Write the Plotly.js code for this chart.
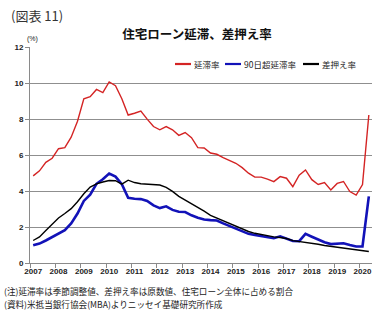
<!DOCTYPE html>
<html>
<head>
<meta charset="utf-8">
<script src="https://cdn.plot.ly/plotly-3.0.1.min.js"></script>
<style>html,body{margin:0;padding:0;background:#fff;}#chart{width:389px;height:325px;}</style>
</head>
<body>
<div id="chart"></div>
<script>
// Quarterly periods, 2007Q1 - 2020Q2
const periods = [
 '2007Q1','2007Q2','2007Q3','2007Q4','2008Q1','2008Q2','2008Q3','2008Q4',
 '2009Q1','2009Q2','2009Q3','2009Q4','2010Q1','2010Q2','2010Q3','2010Q4',
 '2011Q1','2011Q2','2011Q3','2011Q4','2012Q1','2012Q2','2012Q3','2012Q4',
 '2013Q1','2013Q2','2013Q3','2013Q4','2014Q1','2014Q2','2014Q3','2014Q4',
 '2015Q1','2015Q2','2015Q3','2015Q4','2016Q1','2016Q2','2016Q3','2016Q4',
 '2017Q1','2017Q2','2017Q3','2017Q4','2018Q1','2018Q2','2018Q3','2018Q4',
 '2019Q1','2019Q2','2019Q3','2019Q4','2020Q1','2020Q2'
];
const seriesNames = ['延滞率', '90日超延滞率', '差押え率'];
// 延滞率 (%)
const delinquency = [4.84,5.12,5.59,5.82,6.35,6.41,6.99,7.88,9.12,9.24,9.64,9.47,10.06,9.85,9.13,8.22,
 8.32,8.44,7.99,7.58,7.40,7.58,7.40,7.09,7.25,6.96,6.41,6.39,6.11,6.04,5.85,5.68,
 5.54,5.30,4.99,4.77,4.77,4.66,4.52,4.80,4.71,4.24,4.88,5.17,4.63,4.36,4.47,4.06,
 4.42,4.53,3.97,3.77,4.36,8.22];
// 90日超延滞率 (%)
const over90 = [0.98,1.08,1.25,1.45,1.62,1.82,2.20,2.75,3.45,3.80,4.40,4.65,4.97,4.80,4.38,3.62,
 3.57,3.55,3.45,3.20,3.05,3.15,2.95,2.85,2.83,2.65,2.52,2.42,2.38,2.36,2.20,2.06,
 1.93,1.76,1.62,1.56,1.50,1.46,1.38,1.48,1.36,1.22,1.21,1.62,1.46,1.30,1.15,1.05,
 1.06,1.10,1.00,0.92,0.92,3.70];
// 差押え率 (%)
const foreclosure = [1.25,1.45,1.80,2.15,2.50,2.75,3.02,3.40,3.85,4.22,4.40,4.50,4.58,4.57,4.38,4.60,
 4.47,4.40,4.38,4.36,4.33,4.20,3.98,3.70,3.50,3.30,3.10,2.88,2.65,2.50,2.35,2.20,
 2.05,1.92,1.75,1.65,1.58,1.50,1.45,1.42,1.36,1.24,1.20,1.15,1.10,1.04,0.97,0.92,
 0.88,0.84,0.79,0.74,0.70,0.64];
const yearTicks = [2007,2008,2009,2010,2011,2012,2013,2014,2015,2016,2017,2018,2019,2020];
const yTicks = [0,2,4,6,8,10,12];

const titleText = '住宅ローン延滞、差押え率';
const figLabel = '(図表 11)';
const unitLabel = '(%)';
const note1 = '(注)延滞率は季節調整値、差押え率は原数値、住宅ローン全体に占める割合';
const note2 = '(資料)米抵当銀行協会(MBA)よりニッセイ基礎研究所作成';

// period string -> numeric time position
const xs = periods.map(p => +p.slice(0,4) + (+p.slice(5) - 1) / 4);

const colors = ['#d42424', '#1212b8', '#000000'];
const widths = [1.4, 2.6, 1.4];
const values = [delinquency, over90, foreclosure];

const traces = values.map((v, k) => ({
  type: 'scatter', mode: 'lines', x: xs, y: v, name: seriesNames[k],
  line: {color: colors[k], width: widths[k]}, showlegend: false, hoverinfo: 'skip'
}));

const W = 389, H = 325, mL = 30, mR = 17, mT = 47, mB = 62;
const pw = W - mL - mR, ph = H - mT - mB;
const px = v => (v - mL) / pw;
const py = v => (H - mB - v) / ph;

const jp = '"Noto Sans CJK JP", "Noto Sans", sans-serif';
const annotations = [
  {text: figLabel, x: px(9), y: py(16), xref: 'paper', yref: 'paper', xanchor: 'left', yanchor: 'middle', showarrow: false, font: {family: jp, size: 13, color: '#333'}},
  {text: unitLabel, x: px(32), y: py(39), xref: 'paper', yref: 'paper', xanchor: 'center', yanchor: 'middle', showarrow: false, font: {family: '"Liberation Sans", Arial', size: 7, color: '#222'}},
  {text: note1, x: px(3), y: py(291.2), xref: 'paper', yref: 'paper', xanchor: 'left', yanchor: 'middle', borderpad: 0, showarrow: false, font: {family: jp, size: 8.6, color: '#222'}},
  {text: note2, x: px(3), y: py(304.2), xref: 'paper', yref: 'paper', xanchor: 'left', yanchor: 'middle', borderpad: 0, showarrow: false, font: {family: jp, size: 8.6, color: '#222'}}
];
// manual legend
const legX = [175, 225, 303];
const shapes = [];
seriesNames.forEach((n, k) => {
  shapes.push({type: 'line', xref: 'paper', yref: 'paper', x0: px(legX[k]), x1: px(legX[k] + 16), y0: py(64), y1: py(64), line: {color: colors[k], width: 2.2}});
  annotations.push({text: n, x: px(legX[k] + 17), y: py(64), xref: 'paper', yref: 'paper', xanchor: 'left', yanchor: 'middle', showarrow: false, font: {family: jp, size: 8.5, color: '#222'}});
});

const layout = {
  width: W, height: H,
  margin: {l: mL, r: mR, t: mT, b: mB},
  paper_bgcolor: '#fff', plot_bgcolor: '#fff',
  title: {text: titleText, x: 197 / W, xref: 'container', xanchor: 'center', y: 1 - 34.5 / H, yref: 'container', yanchor: 'middle',
          font: {family: jp, size: 12.5, weight: 'bold', color: '#111'}},
  xaxis: {
    range: [2006.875, 2020.375], tickmode: 'array', tickvals: yearTicks, ticktext: yearTicks.map(String),
    ticks: '', showgrid: false, zeroline: false, showline: true, linecolor: '#8a8a8a', linewidth: 1,
    tickfont: {family: '"Liberation Sans", Arial', size: 8, weight: 'bold', color: '#222'},
    minor: {tickmode: 'array', tickvals: yearTicks.map(y => y - 0.125), ticks: 'outside', ticklen: 4, tickcolor: '#8a8a8a', showgrid: false}
  },
  yaxis: {
    range: [0, 12], tickmode: 'array', tickvals: yTicks, ticktext: yTicks.map(String),
    ticks: 'outside', ticklen: 4, tickcolor: '#8a8a8a', showgrid: true, gridcolor: '#8f8f8f', gridwidth: 1,
    zeroline: false, showline: true, linecolor: '#8a8a8a', linewidth: 1,
    tickfont: {family: '"Liberation Sans", Arial', size: 8, weight: 'bold', color: '#222'}
  },
  annotations: annotations,
  shapes: shapes,
  showlegend: false
};

Plotly.newPlot('chart', traces, layout, {staticPlot: true, displayModeBar: false});
</script>
</body>
</html>
